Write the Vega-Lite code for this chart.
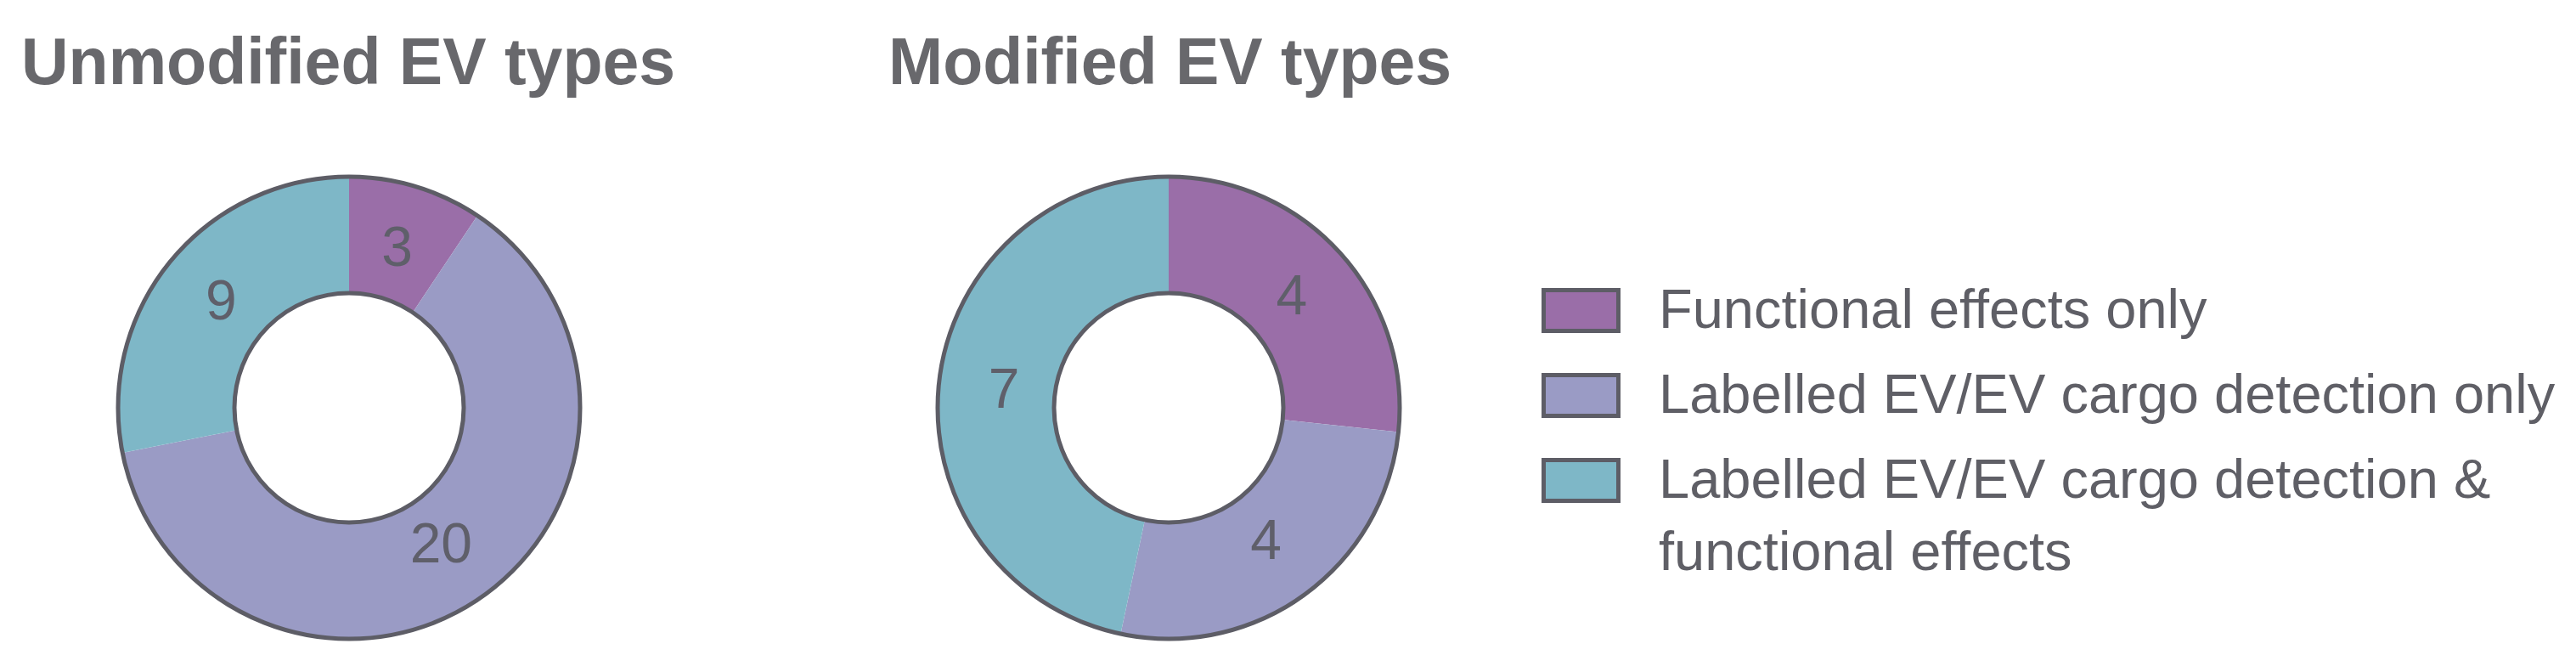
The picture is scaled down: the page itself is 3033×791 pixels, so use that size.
{
  "$schema": "https://vega.github.io/schema/vega-lite/v6.json",
  "background": "white",
  "padding": {"left": 25, "top": 37, "right": 0, "bottom": 0},
  "bounds": "flush",
  "data": {"values": [
    {"panel": "Unmodified EV types", "category": "Functional effects only", "ord": 1, "count": 3},
    {"panel": "Unmodified EV types", "category": "Labelled EV/EV cargo detection only", "ord": 2, "count": 20},
    {"panel": "Unmodified EV types", "category": "Labelled EV/EV cargo detection & functional effects", "ord": 3, "count": 9},
    {"panel": "Modified EV types", "category": "Functional effects only", "ord": 1, "count": 4},
    {"panel": "Modified EV types", "category": "Labelled EV/EV cargo detection only", "ord": 2, "count": 4},
    {"panel": "Modified EV types", "category": "Labelled EV/EV cargo detection & functional effects", "ord": 3, "count": 7}
  ]},
  "spacing": 249,
  "hconcat": [
    {
      "title": {"text": "Unmodified EV types"},
      "width": 772,
      "height": 600,
      "transform": [{"filter": "datum.panel === 'Unmodified EV types'"}],
      "layer": [
        {
          "mark": {"type": "arc", "outerRadius": 272, "innerRadius": 135, "strokeWidth": 0},
          "encoding": {
            "theta": {"field": "count", "type": "quantitative", "stack": true},
            "order": {"field": "ord", "type": "quantitative"},
            "color": {
              "field": "category", "type": "nominal",
              "scale": {
                "domain": ["Functional effects only", "Labelled EV/EV cargo detection only", "Labelled EV/EV cargo detection & functional effects"],
                "range": ["#9a6ea8", "#9a9bc5", "#7eb7c7"]
              },
              "legend": {
                "orient": "none", "legendX": 1790, "legendY": 139,
                "title": null,
                "symbolType": "M-1,-0.545H1V0.545H-1Z",
                "symbolSize": 7744,
                "symbolStrokeColor": "#5d5d66",
                "symbolStrokeWidth": 5,
                "symbolOpacity": 1,
                "labelFont": "Liberation Sans",
                "labelFontSize": 65,
                "labelColor": "#5f5f66",
                "labelLimit": 1300,
                "labelOffset": 45,
                "rowPadding": 19,
                "labelExpr": "datum.label == 'Labelled EV/EV cargo detection & functional effects' ? ['Labelled EV/EV cargo detection &', 'functional effects'] : datum.label"
              }
            }
          }
        },
        {
          "transform": [{"aggregate": [{"op": "sum", "field": "count", "as": "total"}]}],
          "mark": {"type": "arc", "outerRadius": 272, "innerRadius": 135, "filled": false, "stroke": "#5d5d66", "strokeWidth": 5},
          "encoding": {}
        },
        {
          "mark": {"type": "text", "radius": 195, "font": "Liberation Sans", "fontSize": 66, "color": "#5f5f6a", "align": "center", "baseline": "middle"},
          "encoding": {
            "theta": {"field": "count", "type": "quantitative", "stack": true},
            "order": {"field": "ord", "type": "quantitative"},
            "text": {"field": "count", "type": "quantitative"}
          }
        }
      ]
    },
    {
      "title": {"text": "Modified EV types"},
      "width": 660,
      "height": 600,
      "transform": [{"filter": "datum.panel === 'Modified EV types'"}],
      "layer": [
        {
          "mark": {"type": "arc", "outerRadius": 272, "innerRadius": 135, "strokeWidth": 0},
          "encoding": {
            "theta": {"field": "count", "type": "quantitative", "stack": true},
            "order": {"field": "ord", "type": "quantitative"},
            "color": {"field": "category", "type": "nominal"}
          }
        },
        {
          "transform": [{"aggregate": [{"op": "sum", "field": "count", "as": "total"}]}],
          "mark": {"type": "arc", "outerRadius": 272, "innerRadius": 135, "filled": false, "stroke": "#5d5d66", "strokeWidth": 5},
          "encoding": {}
        },
        {
          "mark": {"type": "text", "radius": 195, "font": "Liberation Sans", "fontSize": 66, "color": "#5f5f6a", "align": "center", "baseline": "middle"},
          "encoding": {
            "theta": {"field": "count", "type": "quantitative", "stack": true},
            "order": {"field": "ord", "type": "quantitative"},
            "text": {"field": "count", "type": "quantitative"}
          }
        }
      ]
    }
  ],
  "resolve": {"scale": {"theta": "independent"}},
  "config": {
    "view": {"stroke": null},
    "style": {"guide-label": {"lineHeight": 85}},
    "title": {"font": "Liberation Sans", "fontSize": 77, "fontWeight": "bold", "color": "#68686c", "anchor": "start", "frame": "group", "baseline": "alphabetic", "offset": 65}
  }
}
